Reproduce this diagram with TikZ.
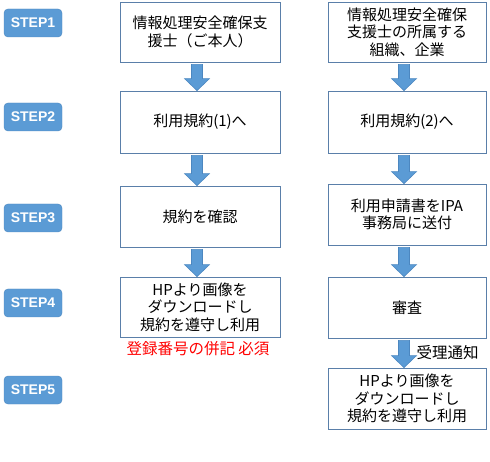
\documentclass[tikz,border=0pt]{standalone}
\usepackage{fontspec}
\setmainfont{Noto Sans CJK JP}
\newfontfamily\stepfont{Liberation Sans}
\usetikzlibrary{calc}

\definecolor{stepblue}{HTML}{5B9BD5}
\definecolor{stepedge}{HTML}{4C87C0}
\definecolor{boxedge}{HTML}{5A7FA9}

\begin{document}
\begin{tikzpicture}[
  x=1pt, y=-1pt,
  steplabel/.style={rectangle, rounded corners=4pt, fill=stepblue, draw=stepedge,
    minimum width=58pt, minimum height=28pt, inner sep=0pt,
    text=white, font=\stepfont\bfseries\fontsize{14}{16}\selectfont},
  flowbox/.style={rectangle, draw=boxedge, line width=0.8pt, fill=white,
    minimum width=160pt, inner sep=0pt, align=center,
    font=\fontsize{15}{17.5}\selectfont},
  blockarr/.style={fill=stepblue, draw=stepedge, line width=0.6pt}
]
  \useasboundingbox (0,0) rectangle (490,462);

  % step labels
  \node[steplabel] (s1) at (33,23) {STEP1};
  \node[steplabel] (s2) at (33,117) {STEP2};
  \node[steplabel] (s3) at (33,218) {STEP3};
  \node[steplabel] (s4) at (33,303) {STEP4};
  \node[steplabel] (s5) at (33,390) {STEP5};

  % left column
  \node[flowbox, minimum height=60pt] (l1) at (200,32)
    {情報処理安全確保支\\援士（ご本人）};
  \node[flowbox, minimum height=62pt] (l2) at (200,122) {利用規約(1)へ};
  \node[flowbox, minimum height=61pt] (l3) at (200,216.5) {規約を確認};
  \node[flowbox, minimum height=60pt] (l4) at (200,307)
    {HPより画像を\\ダウンロードし\\規約を遵守し利用};
  \node[text=red, font=\fontsize{15.5}{17}\selectfont] (note) at (198,349)
    {登録番号の併記 必須};

  % right column
  \node[flowbox, minimum width=158pt, minimum height=60pt] (r1) at (407,32)
    {情報処理安全確保\\支援士の所属する\\組織、企業};
  \node[flowbox, minimum width=158pt, minimum height=62pt] (r2) at (407,122) {利用規約(2)へ};
  \node[flowbox, minimum width=158pt, minimum height=61pt] (r3) at (407,214.5)
    {利用申請書をIPA\\事務局に送付};
  \node[flowbox, minimum width=158pt, minimum height=61pt] (r4) at (407,307.5) {審査};
  \node[flowbox, minimum width=158pt, minimum height=61pt] (r5) at (407,398.5)
    {HPより画像を\\ダウンロードし\\規約を遵守し利用};

  % block arrows
  \foreach \a/\b in {l1/l2, l2/l3, l3/l4, r1/r2, r2/r3, r3/r4, r4/r5}
    \draw[blockarr] let \p1=($(\a.south)+(-3,2)$), \p2=($(\b.north)+(-3,0)$) in
      (\x1-5.5pt,\y1) -- (\x1-5.5pt,\y2+12pt) -- (\x1-12.5pt,\y2+12pt) -- (\x1,\y2)
      -- (\x1+12.5pt,\y2+12pt) -- (\x1+5.5pt,\y2+12pt) -- (\x1+5.5pt,\y1) -- cycle;

  \node[font=\fontsize{15.5}{17}\selectfont, anchor=west] (notice) at (413,353) {受理通知};
\end{tikzpicture}
\end{document}
